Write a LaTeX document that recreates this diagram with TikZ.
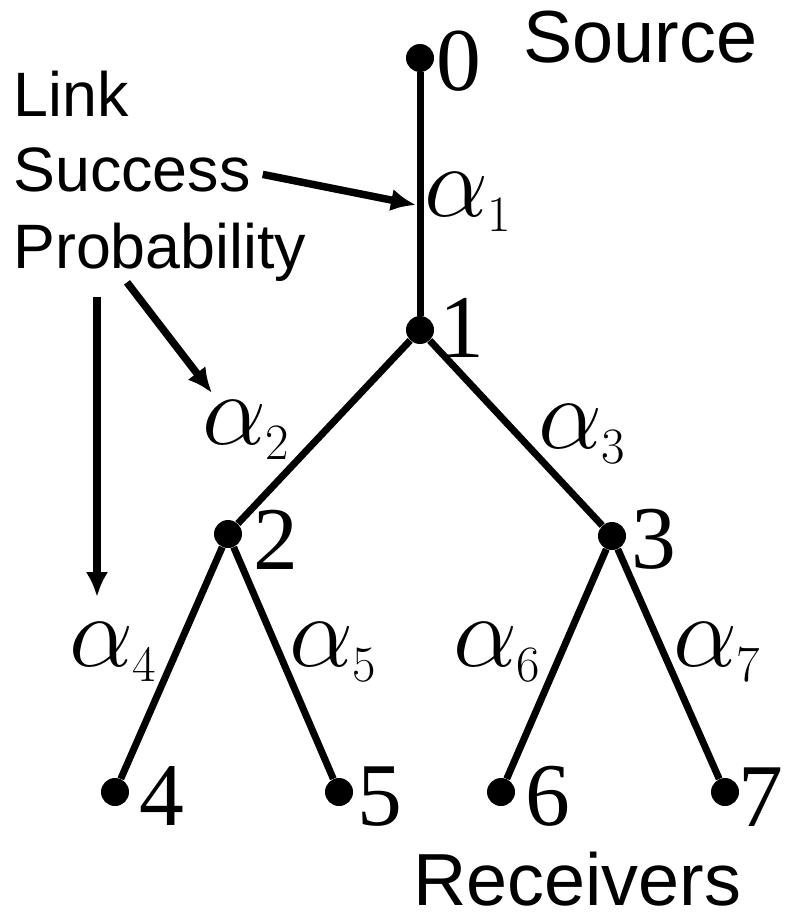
\RequirePackage{fix-cm}
\documentclass[tikz,border=0pt]{standalone}
\usepackage{fontspec}
\setmainfont{Liberation Serif}
\setsansfont{Liberation Sans}
\DeclareMathSizes{58}{58}{29}{22}
\usetikzlibrary{arrows.meta, positioning, calc}
\tikzstyle{vertex} = [circle, fill=black, inner sep=0pt, minimum size=0.56cm]
\tikzstyle{num} = [inner sep=0pt, font=\fontsize{51}{60}\selectfont]
\tikzstyle{prob} = [inner sep=0pt, font=\fontsize{58}{68}\selectfont]
\tikzstyle{txt} = [inner sep=0pt, anchor=base west, font=\sffamily\fontsize{35.7}{43}\selectfont]
\tikzstyle{bigtxt} = [txt, font=\sffamily\fontsize{42}{50}\selectfont]
\tikzstyle{branch} = [line width=0.14cm]
\tikzstyle{pointer} = [line width=0.15cm, -{Latex[length=0.5cm, width=0.45cm]}]

\begin{document}
\begin{tikzpicture}[x=0.02cm, y=-0.02cm]
  \useasboundingbox (0,0) rectangle (785,922);
  % tree nodes
  \node (n0) [vertex] at (420,58) {};
  \node (n1) [vertex] at (420,330) {};
  \node (n2) [vertex] at (228,534) {};
  \node (n3) [vertex] at (612,536) {};
  \node (n4) [vertex] at (115,792) {};
  \node (n5) [vertex] at (339,792) {};
  \node (n6) [vertex] at (501,792) {};
  \node (n7) [vertex] at (725,792) {};
  \foreach \a/\b in {n0/n1, n1/n2, n1/n3, n2/n4, n2/n5, n3/n6, n3/n7}
    \draw [branch] (\a) -- (\b);

  % node numbers
  \node (l0) [num] at (459,61) {0};
  \node (l1) [num] at (462,328) {1};
  \node (l2) [num] at (276,540) {2};
  \node (l3) [num] at (654,539) {3};
  \node (l4) [num] at (162,796) {4};
  \node (l5) [num] at (380,797) {5};
  \node (l6) [num] at (548,796) {6};
  \node (l7) [num] at (761,797) {7};

  % link probabilities
  \node (a1) [prob] at (468,202) {$\alpha_1$};
  \node (a2) [prob] at (246,430) {$\alpha_2$};
  \node (a3) [prob] at (582,434) {$\alpha_3$};
  \node (a4) [prob] at (113,652) {$\alpha_4$};
  \node (a5) [prob] at (333,652) {$\alpha_5$};
  \node (a6) [prob] at (497,652) {$\alpha_6$};
  \node (a7) [prob] at (717,652) {$\alpha_7$};

  % captions
  \node (src) [bigtxt] at (523,63) {Source};
  \node (rcv) [bigtxt] at (413,905) {Receivers};
  \node (lnk) [txt] at (13,117) {Link};
  \node (suc) [txt] at (13,192) {Success};
  \node (prb) [txt] at (13,268) {Probability};

  % pointers
  \coordinate (hit1) at (416,205);
  \coordinate (hit2) at (212,393);
  \coordinate (hit3) at (97,597);
  \draw [pointer] ($(suc.east)+(12,4)$) -- (hit1);
  \draw [pointer] ($(prb.south west)+(114,1)$) -- (hit2);
  \draw [pointer] ($(prb.south west)+(84,16)$) -- (hit3);
\end{tikzpicture}
\end{document}
